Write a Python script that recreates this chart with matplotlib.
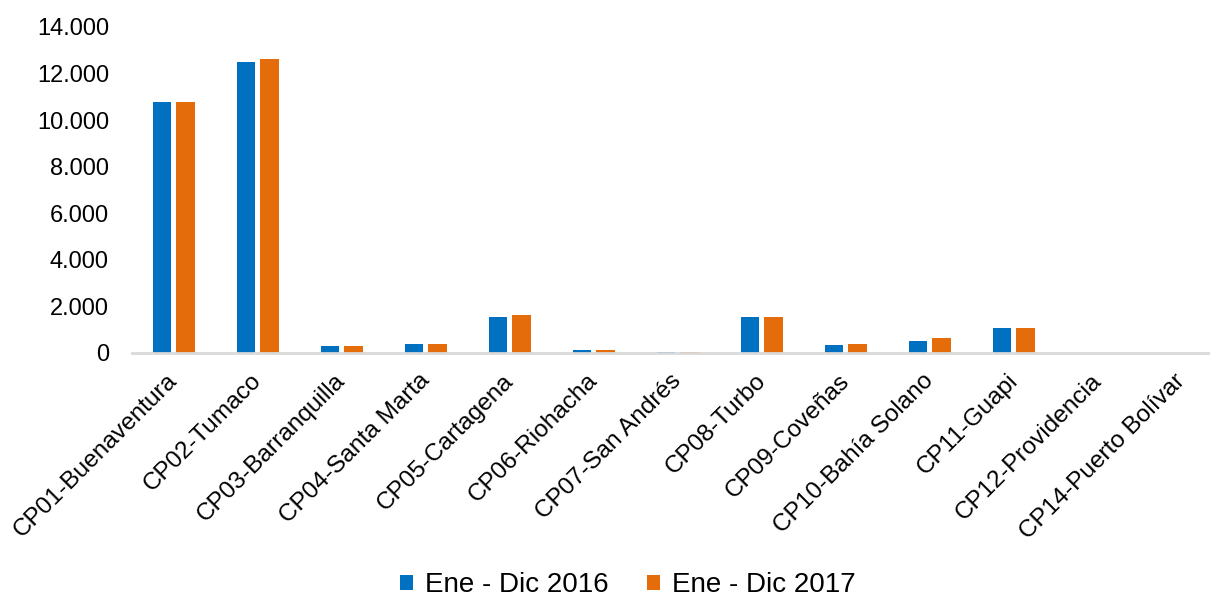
import matplotlib.pyplot as plt
import matplotlib.transforms as mtransforms
import numpy as np

plt.rcParams['font.family'] = ['Liberation Sans', 'DejaVu Sans']

puertos = ["CP01-Buenaventura", "CP02-Tumaco", "CP03-Barranquilla", "CP04-Santa Marta",
           "CP05-Cartagena", "CP06-Riohacha", "CP07-San Andrés", "CP08-Turbo",
           "CP09-Coveñas", "CP10-Bahía Solano", "CP11-Guapi", "CP12-Providencia",
           "CP14-Puerto Bolívar"]
ene_dic_2016 = [10760, 12510, 300, 375, 1556, 143, 40, 1550, 357, 530, 1070, 0, 0]
ene_dic_2017 = [10760, 12630, 300, 375, 1616, 143, 40, 1550, 386, 640, 1070, 0, 0]
series_names = ["Ene - Dic 2016", "Ene - Dic 2017"]

azul = "#0070C0"
naranja = "#E46C0A"

fig = plt.figure(figsize=(12.1, 5.99), dpi=100)
# ejes: el ultimo hueco queda un poco fuera de la figura, como en el original
ax = fig.add_axes([0.109, 0.4107, 0.9025, 0.5443])

x = np.arange(len(puertos))
w = 0.223
gap = 0.06
b1 = ax.bar(x - (w + gap) / 2, ene_dic_2016, width=w, color=azul, label=series_names[0])
b2 = ax.bar(x + (w + gap) / 2, ene_dic_2017, width=w, color=naranja, label=series_names[1])

ax.set_xlim(-0.5, len(puertos) - 0.5)
ax.set_ylim(0, 14000)
ax.set_yticks(range(0, 14001, 2000))
ax.set_yticklabels([f"{v:,}".replace(",", ".") for v in range(0, 14001, 2000)])

for s in ["top", "right", "left"]:
    ax.spines[s].set_visible(False)
ax.spines["bottom"].set_color("#D9D9D9")
ax.spines["bottom"].set_linewidth(2)
ax.tick_params(axis="both", length=0, labelsize=17, colors="black")
ax.tick_params(axis="y", pad=16.5)
ax.tick_params(axis="x", labelsize=17.6)

ax.set_xticks(x)
ax.set_xticklabels(puertos, rotation=45, ha="right", rotation_mode="anchor")
offset = mtransforms.ScaledTranslation(-7.5 / 100, -12 / 100, fig.dpi_scale_trans)
for lbl in ax.get_xticklabels():
    lbl.set_transform(lbl.get_transform() + offset)

fig.legend(handles=[b1, b2], loc="center", bbox_to_anchor=(0.519, 0.023), ncol=2,
           frameon=False, fontsize=20, handlelength=0.47, handleheight=0.47,
           handletextpad=0.43, columnspacing=1.4)

fig.savefig("out.png", dpi=100)
